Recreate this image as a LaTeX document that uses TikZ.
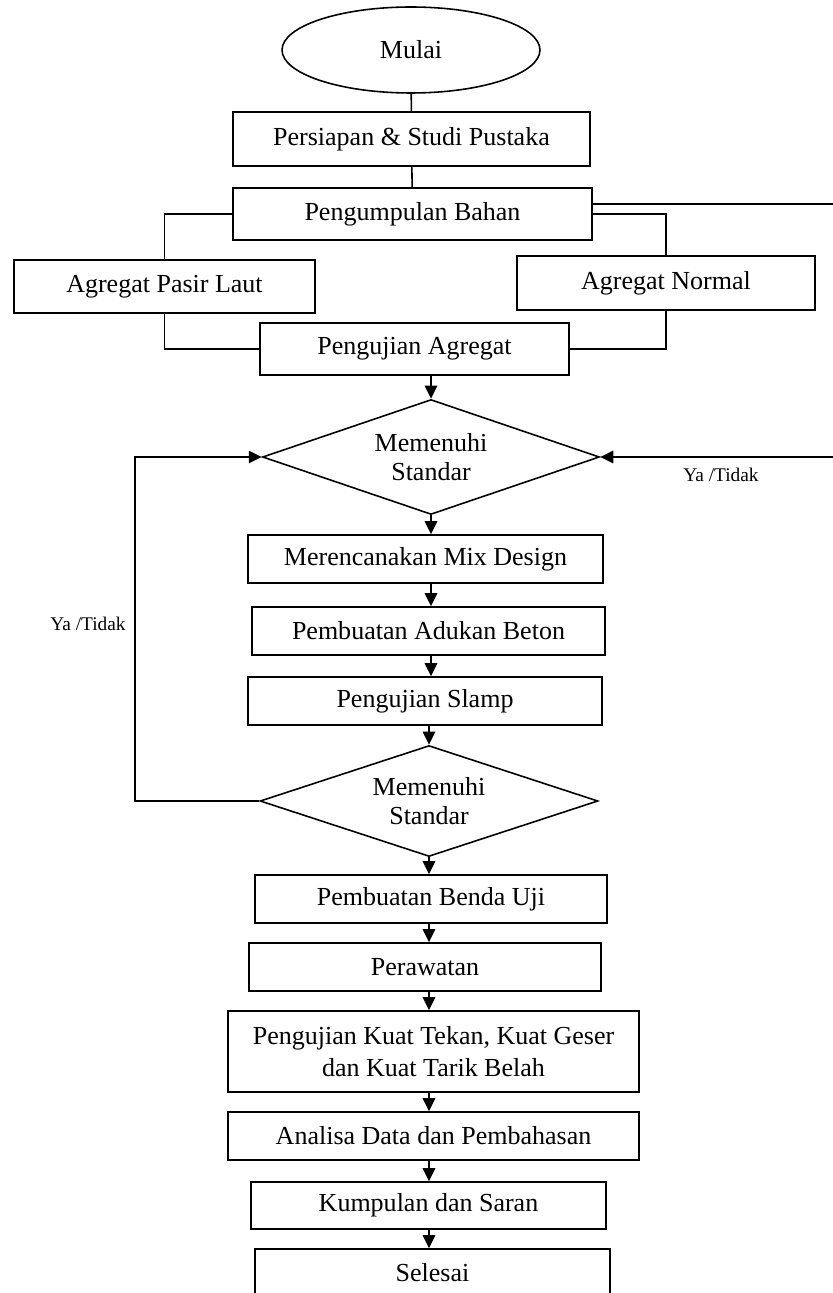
\documentclass[tikz,border=0pt]{standalone}
\usepackage{fontspec}
\setmainfont{Liberation Serif}
\usetikzlibrary{shapes.geometric,arrows.meta}

\tikzset{
    proc/.style={draw, rectangle, line width=0.9pt, inner sep=2pt, align=center,
        font=\fontsize{14.8}{18.5}\selectfont},
    dec/.style={draw, diamond, shape aspect=2.9, line width=0.9pt, inner sep=0pt, align=center,
        font=\fontsize{14.8}{16.5}\selectfont},
    term/.style={draw, ellipse, line width=0.9pt, inner sep=0pt,
        font=\fontsize{14.8}{18.5}\selectfont},
    link/.style={line width=0.9pt},
    arr/.style={link, -{Triangle[length=0.26cm,width=0.25cm]}},
    lbl/.style={font=\fontsize{11}{13}\selectfont}
}

\begin{document}
\begin{tikzpicture}[x=0.02cm, y=-0.02cm]
    \useasboundingbox (0,0) rectangle (832,1293);

    % start and preparation
    \node[term, minimum width=5.16cm, minimum height=1.72cm] (mulai) at (411,50) {Mulai};
    \node[proc, minimum width=7.14cm, minimum height=1.08cm] (prep) at (411.5,139) {Persiapan \& Studi Pustaka};
    \node[proc, minimum width=7.18cm, minimum height=1.04cm] (bahan) at (412.5,214) {Pengumpulan Bahan};

    % aggregates
    \node[proc, minimum width=6.02cm, minimum height=1.06cm] (laut) at (164.5,286.5) {Agregat Pasir Laut};
    \node[proc, minimum width=5.96cm, minimum height=1.08cm] (normal) at (666,283) {Agregat Normal};
    \node[proc, minimum width=6.18cm, minimum height=1.04cm] (uji) at (414.5,349) {Pengujian Agregat};
    \node[dec, minimum width=6.74cm, minimum height=2.30cm] (d1) at (431,457) {Memenuhi\\Standar};

    % mix design and slump
    \node[proc, minimum width=7.10cm, minimum height=0.96cm] (mix) at (425.5,559) {Merencanakan Mix Design};
    \node[proc, minimum width=7.06cm, minimum height=0.96cm] (aduk) at (428.5,631) {Pembuatan Adukan Beton};
    \node[proc, minimum width=7.08cm, minimum height=0.96cm] (slamp) at (425,701) {Pengujian Slamp};
    \node[dec, minimum width=6.76cm, minimum height=2.22cm] (d2) at (429,801) {Memenuhi\\Standar};

    % specimens and testing
    \node[proc, minimum width=7.04cm, minimum height=0.96cm] (benda) at (431,899) {Pembuatan Benda Uji};
    \node[proc, minimum width=7.04cm, minimum height=0.96cm] (rawat) at (425,967) {Perawatan};
    \node[proc, minimum width=8.22cm, minimum height=1.62cm] (kuat) at (433.5,1051.5) {Pengujian Kuat Tekan, Kuat Geser\\dan Kuat Tarik Belah};
    \node[proc, minimum width=8.22cm, minimum height=0.96cm] (analisa) at (433.5,1136) {Analisa Data dan Pembahasan};
    \node[proc, minimum width=7.10cm, minimum height=0.94cm] (saran) at (428.5,1205.5) {Kumpulan dan Saran};
    \node[proc, minimum width=7.10cm, minimum height=0.96cm] (selesai) at (432.5,1273) {Selesai};

    % loop labels
    \node[lbl] (ya1) at (88,624) {Ya /Tidak};
    \node[lbl] (ya2) at (721,475) {Ya /Tidak};
    \coordinate (lp) at (135,0);
    \coordinate (fb) at (836,204);

    % connectors
    \draw[link] (mulai) -- (prep);
    \draw[link] (prep) -- (bahan);
    \draw[link] (bahan.west) -| (laut.north);
    \draw[link] (bahan.east) -| (normal.north);
    \draw[link] (laut.south) |- (uji.west);
    \draw[link] (normal.south) |- (uji.east);
    \draw[arr] (bahan.east |- fb) -- (fb) |- (d1.east);
    \draw[arr] (uji.south -| d1.north) -- (d1.north);
    \draw[arr] (d1.south) -- (d1.south |- mix.north);
    \draw[arr] (mix.south -| d1) -- (aduk.north -| d1);
    \draw[arr] (aduk.south -| d1) -- (slamp.north -| d1);
    \draw[arr] (slamp.south -| d2) -- (d2.north);
    \draw[arr] (d2.west) -- (d2.west -| lp) |- (d1.west);
    \draw[arr] (d2.south) -- (d2.south |- benda.north);
    \draw[arr] (benda.south -| d2) -- (rawat.north -| d2);
    \draw[arr] (rawat.south -| d2) -- (kuat.north -| d2);
    \draw[arr] (kuat.south -| d2) -- (analisa.north -| d2);
    \draw[arr] (analisa.south -| d2) -- (saran.north -| d2);
    \draw[arr] (saran.south -| d2) -- (selesai.north -| d2);
\end{tikzpicture}
\end{document}
